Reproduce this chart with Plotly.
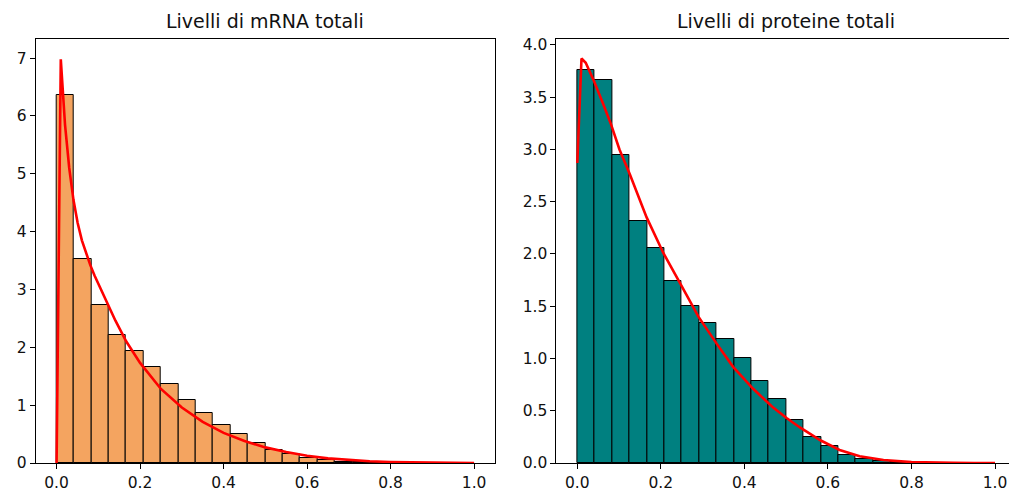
import plotly.graph_objects as go

# ---- data ----
bin_width = 1 / 24
mrna_density = [6.36, 3.53, 2.74, 2.22, 1.93, 1.66, 1.37, 1.09, 0.86, 0.66, 0.51, 0.35,
                0.23, 0.15, 0.085, 0.045, 0.025, 0.012, 0.006, 0.003, 0.001, 0.0, 0.0, 0.0]
prot_density = [3.76, 3.66, 2.95, 2.32, 2.06, 1.74, 1.50, 1.34, 1.185, 1.00, 0.78, 0.61,
                0.41, 0.245, 0.16, 0.08, 0.04, 0.02, 0.01, 0.004, 0.001, 0.0, 0.0, 0.0]

mrna_curve_x = [0, 0.0101, 0.0202, 0.0303, 0.0404, 0.0505, 0.0606, 0.0707, 0.0808, 0.0909,
                0.101, 0.121, 0.141, 0.167, 0.2, 0.25, 0.3, 0.35, 0.4, 0.45, 0.5, 0.55,
                0.6, 0.65, 0.7, 0.75, 0.8, 0.85, 0.9, 0.95, 1.0]
mrna_curve_y = [0, 6.98, 5.85, 5.1, 4.55, 4.15, 3.85, 3.62, 3.42, 3.24,
                3.08, 2.76, 2.46, 2.1, 1.73, 1.28, 0.96, 0.71, 0.52, 0.38, 0.27, 0.19,
                0.125, 0.08, 0.05, 0.03, 0.018, 0.01, 0.005, 0.002, 0.0]

prot_curve_x = [0, 0.0101, 0.0202, 0.0404, 0.0606, 0.0808, 0.101, 0.126, 0.166, 0.206, 0.246,
                0.29, 0.334, 0.373, 0.421, 0.469, 0.501, 0.533, 0.583, 0.628, 0.676, 0.733,
                0.8, 0.85, 0.9, 0.95, 1.0]
prot_curve_y = [2.87, 3.87, 3.83, 3.65, 3.45, 3.24, 3.0, 2.76, 2.35, 2.01, 1.72, 1.40, 1.14,
                0.92, 0.71, 0.53, 0.43, 0.34, 0.215, 0.125, 0.065, 0.028, 0.009, 0.003,
                0.001, 0.0002, 0.0]

titles = ["Livelli di mRNA totali", "Livelli di proteine totali"]
x_ticks = [0.0, 0.2, 0.4, 0.6, 0.8, 1.0]
mrna_y_ticks = [0, 1, 2, 3, 4, 5, 6, 7]
prot_y_ticks = [0.0, 0.5, 1.0, 1.5, 2.0, 2.5, 3.0, 3.5, 4.0]

centers = [(i + 0.5) * bin_width for i in range(len(mrna_density))]

W, H = 1009, 494
FONT = "DejaVu Sans"

fig = go.Figure()
fig.add_trace(go.Bar(x=centers, y=mrna_density, width=bin_width,
                     marker=dict(color="#F4A460", line=dict(color="black", width=1)),
                     xaxis="x", yaxis="y", showlegend=False))
fig.add_trace(go.Scatter(x=mrna_curve_x, y=mrna_curve_y, mode="lines",
                         line=dict(color="red", width=2.6), xaxis="x", yaxis="y",
                         showlegend=False))
fig.add_trace(go.Bar(x=centers, y=prot_density, width=bin_width,
                     marker=dict(color="#008080", line=dict(color="black", width=1)),
                     xaxis="x2", yaxis="y2", showlegend=False))
fig.add_trace(go.Scatter(x=prot_curve_x, y=prot_curve_y, mode="lines",
                         line=dict(color="red", width=2.6), xaxis="x2", yaxis="y2",
                         showlegend=False))

left_dom = [35.7 / W, 495 / W]
right_dom = [556.4 / W, 1.0]
right_xmax = (W - 577.3) / 417.7

axis_common = dict(showgrid=False, zeroline=False, showline=True, linecolor="black",
                   linewidth=1, ticks="outside", ticklen=5, tickwidth=1, tickcolor="black",
                   tickfont=dict(family=FONT, size=15.5, color="#111111"))

fig.update_layout(
    width=W, height=H,
    margin=dict(l=0, r=0, t=39, b=31),
    paper_bgcolor="white", plot_bgcolor="white",
    bargap=0,
    font=dict(family=FONT),
    xaxis=dict(domain=left_dom, range=[-0.05, 1.05], tickvals=x_ticks,
               ticktext=[f"{v:.1f}" for v in x_ticks], mirror=True, anchor="y",
               **axis_common),
    yaxis=dict(domain=[0, 1], range=[0, 7.33], tickvals=mrna_y_ticks,
               ticktext=[str(v) for v in mrna_y_ticks], mirror=True, anchor="x",
               **axis_common),
    xaxis2=dict(domain=right_dom, range=[-0.05, right_xmax], tickvals=x_ticks,
                ticktext=[f"{v:.1f}" for v in x_ticks], mirror=True, anchor="y2",
                **axis_common),
    yaxis2=dict(domain=[0, 1], range=[0, 4.057], tickvals=prot_y_ticks,
                ticktext=[f"{v:.1f}" for v in prot_y_ticks], mirror=False, anchor="x2",
                **axis_common),
)

title_centers = [265 / W, 786 / W]
for t, cx in zip(titles, title_centers):
    fig.add_annotation(text=t, x=cx, y=1, xref="paper", yref="paper",
                       xanchor="center", yanchor="bottom", yshift=5, showarrow=False,
                       font=dict(family=FONT, size=19, color="#111111"))

fig.write_html("out.html")
